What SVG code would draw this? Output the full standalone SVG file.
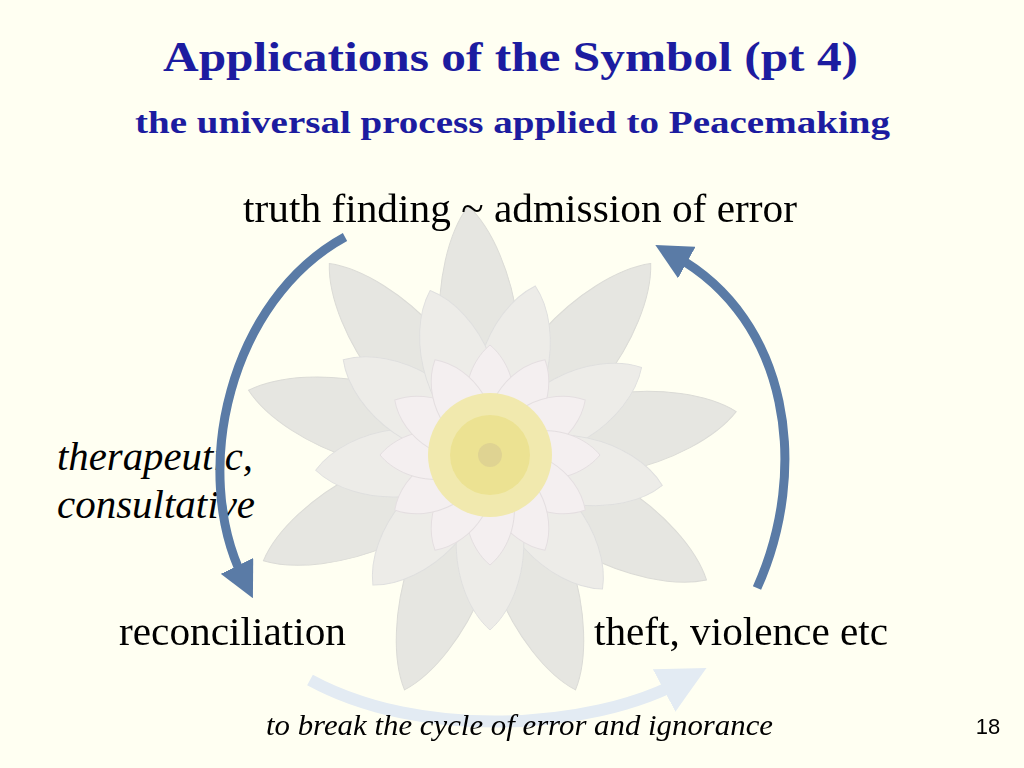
<svg xmlns="http://www.w3.org/2000/svg" width="1024" height="768" viewBox="0 0 1024 768">
<style>
.t{font-family:"Liberation Serif",serif;fill:#000}
.h{font-family:"Liberation Serif",serif;font-weight:bold;fill:#1c1ca0}
.arc{fill:none;stroke:#5a7ba6;stroke-width:9}
.p1{fill:#e4e4e0;stroke:#d8d8d4;stroke-width:1}
.p2{fill:#ecebe8;stroke:#ddd;stroke-width:1}
.p3{fill:#f3eef0;stroke:#e2dcdf;stroke-width:1}
</style>
<defs>
<path id="pa" d="M0,0 C-60,-60 -45,-200 0,-250 C45,-200 60,-60 0,0Z"/>
<path id="pb" d="M0,0 C-50,-50 -40,-140 0,-175 C40,-140 50,-50 0,0Z"/>
<path id="pc" d="M0,0 C-35,-30 -30,-85 0,-110 C30,-85 35,-30 0,0Z"/>
<marker id="ah" markerWidth="4" markerHeight="4" refX="1.5" refY="2" orient="auto" markerUnits="strokeWidth"><path d="M0,0 L4,2 L0,4Z" fill="#5a7ba6"/></marker>
<marker id="ah2" markerWidth="4" markerHeight="4" refX="1.5" refY="2" orient="auto" markerUnits="strokeWidth"><path d="M0,0 L4,2 L0,4Z" fill="#e3ebf3"/></marker>
</defs>
<rect width="1024" height="768" fill="#fffff2"/>
<text class="h" x="163" y="71" font-size="42" textLength="695" lengthAdjust="spacingAndGlyphs">Applications of the Symbol (pt 4)</text>
<text class="h" x="135" y="133" font-size="31" textLength="755" lengthAdjust="spacingAndGlyphs">the universal process applied to Peacemaking</text>
<text class="t" x="57" y="470" font-size="40" font-style="italic" textLength="196" lengthAdjust="spacingAndGlyphs">therapeutic,</text>
<text class="t" x="57" y="518" font-size="40" font-style="italic" textLength="198" lengthAdjust="spacingAndGlyphs">consultative</text>
<g id="lotus" transform="translate(490,455)" opacity="0.92">
<g class="p1">
<use href="#pa" transform="rotate(-5)"/><use href="#pa" transform="rotate(40)"/><use href="#pa" transform="rotate(80)"/><use href="#pa" transform="rotate(120)"/><use href="#pa" transform="rotate(160)"/><use href="#pa" transform="rotate(200)"/><use href="#pa" transform="rotate(245)"/><use href="#pa" transform="rotate(285)"/><use href="#pa" transform="rotate(320)"/>
</g>
<g class="p2">
<use href="#pb" transform="rotate(15)"/><use href="#pb" transform="rotate(60)"/><use href="#pb" transform="rotate(100)"/><use href="#pb" transform="rotate(140)"/><use href="#pb" transform="rotate(180)"/><use href="#pb" transform="rotate(222)"/><use href="#pb" transform="rotate(265)"/><use href="#pb" transform="rotate(303)"/><use href="#pb" transform="rotate(340)"/>
</g>
<g class="p3">
<use href="#pc" transform="rotate(0)"/><use href="#pc" transform="rotate(30)"/><use href="#pc" transform="rotate(60)"/><use href="#pc" transform="rotate(90)"/><use href="#pc" transform="rotate(120)"/><use href="#pc" transform="rotate(150)"/><use href="#pc" transform="rotate(180)"/><use href="#pc" transform="rotate(210)"/><use href="#pc" transform="rotate(240)"/><use href="#pc" transform="rotate(270)"/><use href="#pc" transform="rotate(300)"/><use href="#pc" transform="rotate(330)"/>
</g>
<circle r="62" fill="#f0e8a8"/>
<circle r="40" fill="#ebe08a"/>
<circle r="12" fill="#ddd08a"/>
</g>
<g id="connectors">
<path class="arc" d="M345,237 C230,300 190,470 243,578" marker-end="url(#ah)"/>
<path class="arc" d="M757,588 C810,470 790,320 675,256" marker-end="url(#ah)"/>
<path d="M310,680 C420,740 590,730 680,682" fill="none" stroke="#e3ebf3" stroke-width="12" marker-end="url(#ah2)"/>
</g>
<text class="t" x="243" y="222" font-size="40" textLength="554" lengthAdjust="spacingAndGlyphs">truth finding ~ admission of error</text>
<text class="t" x="119" y="645" font-size="40" textLength="227" lengthAdjust="spacingAndGlyphs">reconciliation</text>
<text class="t" x="594" y="645" font-size="40" textLength="294" lengthAdjust="spacingAndGlyphs">theft, violence etc</text>
<text class="t" x="266" y="735" font-size="30" font-style="italic" textLength="507" lengthAdjust="spacingAndGlyphs">to break the cycle of error and ignorance</text>
<text x="988" y="734" font-size="22" font-family="Liberation Sans,sans-serif" text-anchor="middle">18</text>
</svg>
